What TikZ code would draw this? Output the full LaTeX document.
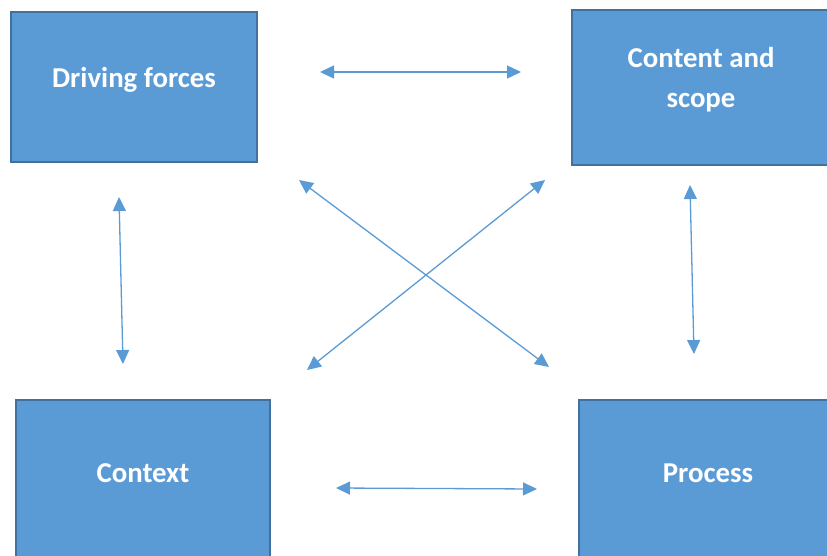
\documentclass[tikz,border=0pt]{standalone}
\usepackage{fontspec}
\setmainfont{Carlito}
\usetikzlibrary{arrows.meta}

\definecolor{boxfill}{HTML}{5B9BD5}
\definecolor{boxline}{HTML}{41719C}

\tikzset{
  block/.style={draw=boxline, line width=1.8pt, fill=boxfill, inner sep=0pt},
  blocktext/.style={text=white, font=\bfseries\fontsize{28.8}{40}\selectfont, align=center},
  link/.style={draw=boxfill, line width=1.3pt,
    {Triangle[length=14pt,width=13pt]}-{Triangle[length=14pt,width=13pt]}}
}

\begin{document}
\begin{tikzpicture}[x=1pt, y=-1pt]
                            \useasboundingbox (0,0) rectangle (827,555);
                            \clip (0,0) rectangle (827,555);

                            \node[block, minimum width=246pt, minimum height=150pt] (drive) at (134,87) {};
                            \node[block, minimum width=262pt, minimum height=155pt] (content) at (703,87.5) {};
                            \node[block, minimum width=254pt, minimum height=160pt] (context) at (143,480) {};
                            \node[block, minimum width=256pt, minimum height=160pt] (process) at (707,480) {};

                            \node[blocktext] (drive-t) at (134,80) {Driving forces};
                            \node[blocktext] (content-t) at (701,79.5) {Content and\\scope};
                            \node[blocktext] (context-t) at (143,473) {Context};
                            \node[blocktext] (process-t) at (708,473) {Process};

                            \coordinate (a1) at (320,72);
                            \coordinate (a2) at (521,72);
                            \coordinate (b1) at (336,488);
                            \coordinate (b2) at (537,489);
                            \coordinate (c1) at (119,197);
                            \coordinate (c2) at (123,364);
                            \coordinate (d1) at (690,185);
                            \coordinate (d2) at (694,354);
                            \coordinate (e1) at (299,180);
                            \coordinate (e2) at (549,367);
                            \coordinate (f1) at (545,180);
                            \coordinate (f2) at (307,370);

                            \draw[link] (a1) -- (a2);
                            \draw[link] (b1) -- (b2);
                            \draw[link] (c1) -- (c2);
                            \draw[link] (d1) -- (d2);
                            \draw[link] (e1) -- (e2);
                            \draw[link] (f1) -- (f2);
                        \end{tikzpicture}
\end{document}
